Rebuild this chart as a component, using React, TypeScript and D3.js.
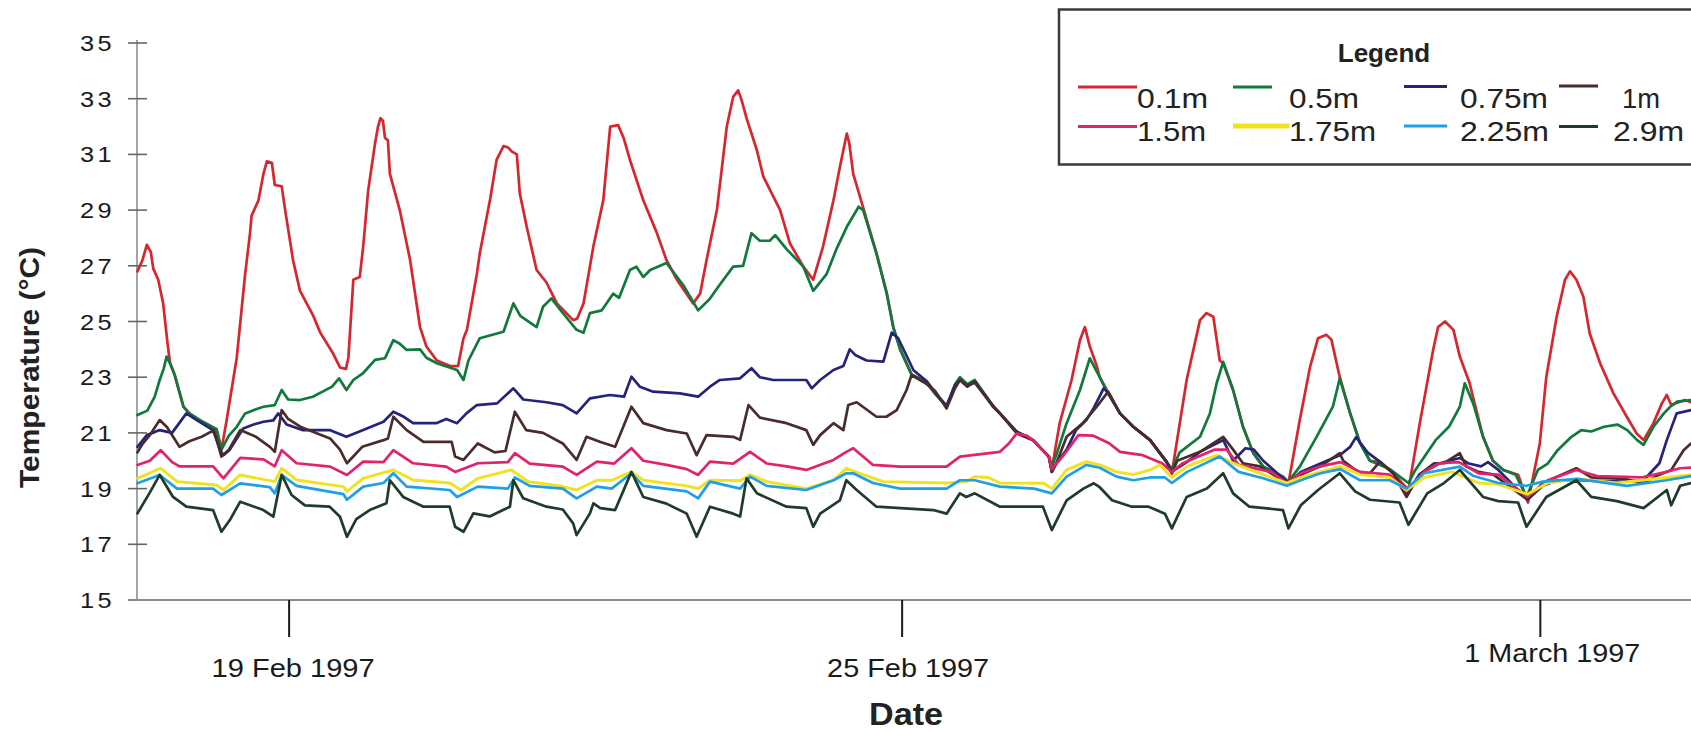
import React from "react";
import * as d3 from "d3";

type P = [number, number];

// x = hours from start of record, y = temperature (°C)
const s01: P[] = [[0.5,26.8],[1.5,27.2],[2.4,27.75],[3.2,27.5],[3.7,26.9],[4.7,26.5],[5.7,25.65],[6.6,24.2],[7.1,23.5],[8,23.1],[9.8,21.94],[11,21.7],[13.2,21.45],[16.5,21.13],[17.5,20.4],[18.5,21.4],[20.6,23.7],[22.3,26.7],[23.3,28.2],[23.6,28.8],[25,29.35],[26,30.3],[26.7,30.75],[27.7,30.7],[28.3,29.9],[29.7,29.85],[30.4,29.0],[32,27.2],[33.4,26.1],[36.1,25.2],[37.5,24.6],[40.1,23.85],[41.5,23.35],[42.7,23.3],[43.2,23.7],[44.2,26.5],[45.5,26.6],[46.2,27.7],[47.2,29.7],[48.6,31.4],[49.2,32.0],[49.7,32.3],[50.2,32.2],[50.6,31.6],[51.2,31.5],[51.6,30.3],[53.6,29.0],[55.7,27.2],[57.7,24.8],[59,24.1],[61.1,23.6],[63.8,23.4],[65.4,23.4],[66.5,24.4],[67.2,24.7],[69.2,26.7],[69.8,27.45],[71.9,29.4],[73.2,30.8],[74.6,31.3],[75.5,31.25],[76.3,31.1],[77.3,31.0],[77.9,29.6],[79.3,28.4],[81.3,26.85],[83.3,26.4],[85.4,25.65],[88.7,25.05],[89.5,25.1],[90.8,25.65],[92.8,27.7],[94.8,29.35],[96.2,32.0],[97.8,32.05],[98.9,31.6],[100.2,30.8],[102.9,29.35],[105.6,28.2],[107.6,27.2],[109.7,26.5],[113,25.65],[114.4,26.0],[115.7,27.2],[117.8,29.0],[119.8,32.0],[121.1,33.07],[122.1,33.3],[122.8,32.95],[123.8,32.3],[125.9,31.15],[127.2,30.2],[130.6,29.0],[132.6,27.8],[135.3,26.97],[137.3,26.5],[139.3,27.7],[141.4,29.35],[142.7,30.55],[144.1,31.75],[144.6,31.4],[145.4,30.3],[147.4,29.1],[150.1,27.45],[152.2,26.0],[153.5,24.8],[154.9,24.0],[157.2,23.1],[160.3,22.8],[162,22.4],[164.3,21.95],[166,22.7],[167,22.95],[168.5,22.7],[170,22.85],[173.7,21.97],[175.1,21.7],[178.5,21.04],[181.8,20.74],[185,20.15],[185.6,19.7],[187.2,21.35],[189.6,22.9],[191.3,24.33],[192.3,24.8],[193.3,24.1],[194.7,23.4],[195.3,23.0],[197,22.45],[199.4,21.7],[202.1,21.22],[205.5,20.74],[208.8,19.97],[209.9,19.55],[212.9,22.9],[215.6,25.05],[216.9,25.3],[218.3,25.17],[219.6,23.6],[220.3,23.5],[222.3,22.54],[224.3,21.22],[226.4,20.27],[228.4,19.79],[232.4,19.43],[233.5,19.19],[235.8,21.46],[237.9,23.38],[239.5,24.4],[241.2,24.52],[242.2,24.35],[243.9,23.0],[246,21.7],[248,20.63],[250,20.0],[252,19.95],[254.7,19.55],[257.8,18.95],[260.1,21.35],[262.8,23.98],[263.8,24.8],[265.2,25.0],[266.9,24.7],[268.2,23.74],[270.2,22.78],[271,22.2],[272.9,20.86],[274.9,20.0],[277,19.67],[280,19.5],[282,18.5],[284.4,20.63],[285.7,23.0],[287.8,25.17],[289.5,26.5],[290.5,26.8],[291.8,26.5],[293.2,25.9],[294.5,24.57],[296.6,23.5],[299.3,22.42],[302,21.58],[304,20.98],[305.4,20.74],[307.4,21.35],[309.1,22.06],[310.1,22.36],[311,22.0],[312.5,22.1],[313.8,22.18],[315,22.1]];

const s05: P[] = [[0.5,21.64],[2.5,21.8],[4,22.3],[5,22.9],[5.8,23.3],[6.4,23.74],[7.1,23.5],[8,23.1],[9.8,21.94],[11,21.7],[13.2,21.45],[16.5,21.13],[17.5,20.4],[19,20.9],[20.6,21.22],[22.3,21.7],[24.5,21.85],[26,21.94],[28.3,22.0],[29.7,22.54],[31,22.2],[33.4,22.18],[36,22.3],[39.9,22.66],[41.3,22.96],[42.8,22.54],[44.2,22.9],[46.2,23.15],[48.6,23.62],[50.6,23.68],[52.3,24.33],[53.6,24.2],[55,23.98],[57.7,24.0],[59,23.7],[61.1,23.5],[65.2,23.26],[66.5,22.9],[67.5,23.6],[69.8,24.4],[71.8,24.5],[74.6,24.63],[76.6,25.65],[78,25.2],[81.3,24.8],[82.6,25.53],[84.3,25.83],[86.4,25.35],[89.4,24.7],[90.8,24.6],[92.1,25.3],[94.5,25.4],[96.8,26.0],[98,25.85],[100.2,26.85],[101.5,26.97],[102.9,26.6],[104.3,26.85],[107.6,27.1],[111,26.3],[114,25.4],[116.3,25.8],[118.3,26.3],[121.1,26.97],[123.1,27.0],[124.8,28.17],[126.5,27.9],[128.5,27.9],[129.6,28.1],[131.9,27.6],[135.3,26.97],[137.3,26.1],[140,26.7],[142,27.6],[144.1,28.4],[146.5,29.12],[147.4,29.0],[150.1,27.45],[152.2,26.0],[153.5,24.8],[154.9,24.0],[157.2,23.1],[160.3,22.8],[162,22.4],[164.3,21.95],[166,22.75],[167,23.0],[168.5,22.75],[170,22.9],[173.7,21.97],[175.1,21.7],[178.5,21.04],[181.8,20.74],[185,20.15],[185.6,19.8],[186.5,20.2],[188.6,21.35],[191.3,22.54],[193.3,23.68],[195.3,23.0],[197,22.4],[199.4,21.7],[202.1,21.22],[205.5,20.74],[208.8,19.97],[209.9,19.7],[211.5,20.3],[215.6,20.86],[217.6,21.7],[219,22.8],[220.3,23.55],[222.3,22.54],[224.3,21.22],[226.4,20.27],[228.4,19.79],[232.4,19.43],[233.5,19.25],[235.8,19.79],[239.2,20.86],[242.5,21.94],[243.9,22.96],[246,21.7],[248,20.63],[250,20.0],[254,19.7],[257.8,19.2],[259.2,19.67],[263.3,20.74],[266,21.22],[268.2,21.94],[269.2,22.78],[270.9,22.06],[272.9,20.86],[274.9,20.0],[277,19.67],[279.5,19.5],[281.7,18.7],[284,19.67],[286,19.9],[288,20.38],[290.8,20.86],[292.8,21.1],[294.8,21.05],[297.4,21.22],[300.1,21.3],[302.1,21.1],[304.1,20.74],[305.4,20.57],[307.4,21.22],[309.5,21.7],[310.8,21.94],[312.2,22.12],[315,22.18]];

const s075: P[] = [[0.5,20.5],[2.4,20.92],[5,21.1],[7.5,21.0],[10.4,21.7],[12.5,21.46],[15.8,21.1],[17.2,20.4],[17.9,20.2],[19.2,20.4],[21.9,21.16],[24,21.3],[26,21.4],[28,21.45],[29,21.7],[30.7,21.3],[34,21.1],[39.4,21.1],[42.8,20.86],[46.2,21.1],[50.3,21.4],[52.3,21.76],[54.2,21.6],[56.3,21.35],[61,21.35],[63,21.5],[65.2,21.35],[67.1,21.7],[69.2,22.0],[73.3,22.06],[76.6,22.6],[78.6,22.2],[83.3,22.1],[86.6,22.0],[89.4,21.7],[92.1,22.24],[96.1,22.36],[99,22.3],[100.5,23.02],[102.2,22.66],[104.9,22.48],[110.3,22.42],[114,22.3],[116.4,22.66],[118.4,22.9],[122.5,22.96],[124.8,23.32],[126.5,23.0],[129.2,22.9],[135.9,22.9],[137,22.6],[138.7,22.9],[141.4,23.26],[143.4,23.4],[144.7,24.0],[145.8,23.8],[148.1,23.6],[151.5,23.56],[153.2,24.6],[154.5,24.4],[157.6,23.25],[160.3,22.85],[162,22.45],[164.3,21.97],[166,22.7],[167,22.9],[168.5,22.66],[170,22.84],[173.7,21.94],[175.1,21.7],[178.5,21.04],[181.8,20.74],[185,20.15],[185.6,19.6],[186.5,19.9],[188.6,20.4],[190.5,21.1],[192.6,21.46],[194.1,21.9],[196.1,22.6],[197.2,22.4],[199.4,21.7],[202.1,21.22],[205.5,20.74],[208.8,19.97],[209.9,19.6],[212.9,19.95],[215.6,20.32],[220.3,20.74],[222.3,20.0],[224.8,20.45],[226.5,20.4],[228.4,20.0],[233.5,19.2],[236,19.6],[240,19.9],[243.9,20.2],[246,20.5],[247.2,20.85],[249.5,20.3],[252,19.97],[254.7,19.55],[257.4,18.8],[260,19.5],[264,19.9],[268.2,20.1],[270,19.9],[272.5,19.8],[273.9,19.95],[276,19.67],[281.9,18.6],[285,19.1],[288,19.3],[292.4,19.3],[301,19.25],[305.4,19.3],[308.6,19.91],[310.1,20.74],[312.1,21.7],[315,21.82]];

const s1: P[] = [[0.5,20.3],[1.5,20.6],[3,20.92],[5,21.46],[6.5,21.2],[9,20.5],[11,20.7],[13.5,20.86],[16,21.1],[17.5,20.15],[19,20.4],[21.3,21.1],[24.5,20.86],[27.3,20.5],[28.3,20.32],[29.7,21.82],[31,21.5],[33.7,21.2],[39.5,20.8],[41.5,20.4],[42.9,19.91],[46,20.5],[50.3,20.74],[51.2,20.8],[52.3,21.58],[55,21.1],[58.4,20.68],[64.1,20.68],[64.8,20.15],[66.5,20.03],[69.4,20.62],[72.8,20.3],[75,20.35],[76.9,21.76],[79.2,21.1],[82.6,21.0],[86.6,20.62],[89.4,20.03],[91.4,20.86],[94.1,20.68],[97.2,20.5],[100.5,21.94],[102.9,21.35],[107.6,21.1],[111.7,20.98],[113.7,20.2],[115.7,20.92],[121.1,20.86],[122.5,20.75],[124.2,22.0],[126.5,21.55],[131.9,21.35],[135.9,21.1],[137.3,20.57],[138.7,20.92],[141.4,21.35],[143.4,21.1],[144.4,22.0],[146.1,22.1],[150.1,21.58],[152.1,21.58],[154.2,21.82],[156.2,22.54],[157.2,23.08],[160.3,22.75],[162,22.5],[164.3,21.88],[166,22.6],[167,22.9],[168.5,22.7],[170,22.8],[173.7,21.97],[175.1,21.7],[178.5,20.98],[181.8,20.74],[185,20.15],[185.6,19.6],[186.5,19.9],[188.6,20.86],[191.9,21.35],[194.7,21.94],[197,22.48],[199.4,21.7],[202.1,21.22],[205.5,20.74],[208.8,19.97],[209.9,19.55],[211,20.0],[215.6,20.32],[220.3,20.86],[222.3,20.4],[224.3,19.91],[227.7,19.8],[233.2,19.2],[236,19.5],[240,19.8],[243.9,20.27],[244.6,20.0],[248,19.55],[250,19.55],[252,19.97],[254.7,19.55],[257.4,18.7],[260,19.5],[263,19.91],[265,19.91],[268.2,20.27],[269.5,19.8],[272,19.6],[275,19.5],[281.9,18.6],[285,19.2],[291.8,19.73],[294.8,19.4],[301.5,19.35],[305.4,19.2],[308.6,19.5],[311,19.67],[313.5,20.38],[315,20.62]];

const s15: P[] = [[0.5,19.85],[3,20.0],[5.2,20.38],[7.5,19.95],[9,19.8],[15.8,19.8],[17.9,19.37],[21.3,20.1],[26,20.05],[28.3,19.8],[29.7,20.38],[32.7,19.91],[39.5,19.79],[42.9,19.49],[46.2,19.97],[50.3,19.95],[52.3,20.38],[56.3,19.91],[63,19.79],[64.8,19.6],[69.4,19.91],[75.5,19.95],[76.9,20.27],[79.9,19.9],[86.6,19.79],[89.4,19.49],[93.5,19.97],[97,19.9],[100.5,20.45],[102.9,20.0],[107.6,19.85],[111.7,19.7],[114,19.49],[116.4,19.97],[121.1,19.9],[124.5,20.32],[127.9,19.9],[131.9,19.8],[135.9,19.67],[141.4,20.03],[144,20.32],[145.4,20.45],[149.4,19.85],[154.9,19.79],[164.3,19.79],[167,20.15],[175.1,20.32],[176.8,20.6],[178.5,20.98],[180.5,20.9],[181.8,20.74],[185,20.15],[185.6,19.7],[188,20.2],[191,20.92],[194,20.9],[197.2,20.63],[199.4,20.32],[204,20.2],[208,19.9],[209.9,19.6],[212,19.9],[218.6,20.4],[221,20.4],[223.4,19.85],[230,19.6],[233.2,19.2],[236,19.55],[240,19.8],[244,19.95],[248,19.6],[254,19.5],[257.4,18.9],[261,19.6],[264,19.91],[268,19.95],[272,19.55],[276,19.5],[281.9,18.7],[286,19.3],[291.8,19.67],[296,19.45],[305,19.4],[310,19.6],[312.8,19.73],[315,19.75]];

const s175: P[] = [[0.5,19.37],[5.2,19.73],[8.5,19.25],[16.5,19.13],[17.9,18.95],[21.3,19.49],[28.3,19.25],[29.7,19.73],[32.7,19.31],[42.2,19.07],[42.9,18.9],[46.2,19.37],[52.3,19.67],[56.3,19.31],[63.7,19.2],[66,18.95],[69.4,19.37],[76.2,19.67],[79.6,19.25],[86,19.1],[89.4,18.95],[93.5,19.3],[96.5,19.3],[100.5,19.6],[102.9,19.3],[111.7,19.1],[114,19.0],[116.4,19.3],[122.5,19.28],[124.5,19.5],[127.9,19.25],[135.9,19.0],[141.4,19.3],[144,19.73],[146.7,19.55],[151.5,19.25],[164.3,19.2],[168.3,19.25],[170,19.43],[172.7,19.4],[175.1,19.2],[184,19.19],[185.6,19.0],[188.6,19.67],[192.6,19.97],[195.3,19.85],[198.7,19.6],[202.1,19.5],[205.5,19.67],[207.5,19.85],[209.9,19.4],[213,19.8],[219,20.2],[222.5,19.9],[228.4,19.5],[233.2,19.2],[236,19.4],[240,19.6],[244,19.8],[248,19.5],[254,19.4],[257.4,18.95],[261,19.4],[266.5,19.6],[268,19.5],[272,19.2],[276,19.15],[281.9,18.8],[286,19.2],[292,19.35],[300,19.2],[310,19.4],[315,19.5]];

const s225: P[] = [[0.5,19.19],[5,19.49],[8.5,19.0],[15.8,19.0],[17.5,18.77],[21.3,19.19],[27.3,19.05],[28.3,18.83],[29.7,19.49],[32.7,19.1],[42.2,18.8],[42.9,18.6],[46.2,19.07],[50.3,19.2],[52.3,19.55],[55,19.07],[63.7,18.95],[65.2,18.7],[69.4,19.07],[75.5,19.0],[76.9,19.4],[79.9,19.1],[86.6,19.0],[89.4,18.65],[93.5,19.07],[96.5,19.0],[100.5,19.55],[102.9,19.1],[111.7,18.9],[114,18.65],[116.4,19.25],[122.5,19.0],[124.5,19.43],[127.9,19.1],[135.9,18.95],[141.4,19.3],[144,19.55],[145.4,19.55],[149.4,19.2],[154.9,19.0],[164.3,19.0],[167,19.3],[170,19.3],[175.1,19.07],[182,19.0],[185.6,18.83],[188.6,19.43],[192.6,19.85],[195.3,19.75],[198.7,19.43],[202.1,19.3],[205.5,19.4],[208.5,19.4],[209.9,19.2],[213,19.6],[219.6,20.15],[223.4,19.6],[228.4,19.37],[233.2,19.1],[236,19.3],[240,19.55],[244,19.7],[248,19.3],[254,19.3],[257.4,19.0],[261,19.55],[268.2,19.79],[271,19.45],[276,19.2],[281.7,19.1],[285,19.25],[292,19.35],[302,19.1],[310,19.3],[315,19.45]];

const s29: P[] = [[0.5,18.11],[2.9,18.83],[5,19.49],[7.7,18.7],[10.4,18.35],[15.8,18.23],[17.5,17.45],[19.2,17.87],[21.3,18.53],[26,18.23],[28,17.99],[29.7,19.49],[31.7,18.77],[34.4,18.4],[39.4,18.35],[41.5,17.99],[42.9,17.27],[44.8,17.9],[47.5,18.23],[50.9,18.47],[51.6,19.3],[54.3,18.7],[58.4,18.35],[63.7,18.35],[64.8,17.63],[66.5,17.45],[68.5,18.11],[71.8,18.0],[74.5,18.23],[75.9,18.35],[76.6,19.3],[78.6,18.65],[83.3,18.35],[86.6,18.25],[88.7,17.75],[89.4,17.33],[92.1,18.11],[92.8,18.47],[94.2,18.3],[97.2,18.23],[100.5,19.6],[102.9,18.7],[107.6,18.46],[111.7,18.1],[113.7,17.27],[116.4,18.35],[121.1,18.1],[122.5,18.0],[123.8,19.37],[125.9,18.83],[131.9,18.35],[135.9,18.3],[137.3,17.63],[138.7,18.1],[142.7,18.58],[144,19.3],[146.1,18.95],[150.1,18.35],[155,18.3],[161.6,18.23],[164.3,18.1],[167,18.83],[168.3,18.7],[170,18.83],[175.1,18.35],[183.8,18.35],[185.6,17.51],[188.6,18.58],[192,19.0],[194.1,19.19],[195.3,19.05],[197.8,18.58],[201.8,18.35],[205.2,18.35],[208.5,18.1],[209.9,17.57],[212.9,18.7],[217,19.0],[220.3,19.55],[222.3,18.83],[225.6,18.35],[232.4,18.23],[233.5,17.57],[236,18.4],[239.5,18.95],[243.9,19.55],[247,18.9],[250,18.6],[256,18.5],[257.8,17.7],[261.6,18.83],[265,19.2],[268.2,19.67],[269,19.5],[272.9,18.7],[276,18.55],[280,18.5],[281.7,17.63],[285.7,18.7],[291.8,19.3],[294.8,18.7],[300,18.55],[305.4,18.3],[310.1,18.95],[311,18.4],[312.8,19.1],[315,19.2]];

const seriesLabels = ["0.1m", "0.5m", "0.75m", "1m", "1.5m", "1.75m", "2.25m", "2.9m"];
const seriesData: P[][] = [s01, s05, s075, s1, s15, s175, s225, s29];
const yTickValues = [15, 17, 19, 21, 23, 25, 27, 29, 31, 33, 35];
const dateTickHours = [31.2, 155.3, 284.5];
const dateTickLabels = ["19 Feb 1997", "25 Feb 1997", "1 March 1997"];

const COLORS = ["#d8262e", "#0f7a3c", "#25247a", "#4a2c2c", "#e2226c", "#f0e21c", "#1e9fe6", "#1f3b2a"];
const FONT = "'Liberation Sans', Arial, Helvetica, sans-serif";

export default function App() {
  const W = 1691, H = 731;
  const x = d3.scaleLinear().domain([0, 315]).range([135, 1691]);
  const y = d3.scaleLinear().domain([15, 35]).range([600, 43]);
  const line = d3.line<P>().x(d => x(d[0])).y(d => y(d[1]));

  // legend layout: [lineX0, lineX1, lineY, textX, textW, baseline]
  const legendLayout: [number, number, number, number, number, number][] = [
    [1078, 1137, 87, 1137, 71, 108],
    [1233, 1272, 87, 1289, 70, 108],
    [1404, 1447, 86.5, 1460, 88, 108],
    [1559, 1598, 86, 1622, 38, 108],
    [1078, 1137, 126.5, 1137, 69, 141],
    [1233, 1289, 126, 1289, 87, 141],
    [1404, 1447, 126, 1460, 89, 141],
    [1559, 1598, 126.5, 1613, 71, 141],
  ];
  const dateLabelW = [163, 162, 176];
  const dateLabelBase = [677, 677, 662];
  const dateLabelShift = [4, 6, 12];

  return (
    <svg width={W} height={H} viewBox={`0 0 ${W} ${H}`}
      style={{ position: "absolute", left: 0, top: 0, background: "#fff" }}
      fontFamily={FONT}>
      <rect x={0} y={0} width={W} height={H} fill="#fff" />

      {/* y axis */}
      <line x1={137} x2={137} y1={y(35) - 3} y2={y(15)} stroke="#8e8e8e" strokeWidth={1.6} />
      {yTickValues.map(v => (
        <g key={v}>
          <line x1={128} x2={147} y1={y(v)} y2={y(v)} stroke="#666" strokeWidth={1.6} />
          <text x={80} y={y(v) + 8} fontSize={22.5} fill="#1a1a1a"
            textLength={35} lengthAdjust="spacingAndGlyphs" letterSpacing={3}>{v}</text>
        </g>
      ))}

      {/* x axis */}
      <line x1={135} x2={W} y1={y(15)} y2={y(15)} stroke="#8c8c8c" strokeWidth={2.2} />
      {dateTickHours.map((h, i) => (
        <g key={h}>
          <line x1={x(h)} x2={x(h)} y1={y(15)} y2={637} stroke="#1a1a1a" strokeWidth={2} />
          <text x={x(h) + dateLabelShift[i]} y={dateLabelBase[i]} fontSize={25} textAnchor="middle" fill="#1a1a1a"
            textLength={dateLabelW[i]} lengthAdjust="spacingAndGlyphs">{dateTickLabels[i]}</text>
        </g>
      ))}

      {/* series */}
      {seriesData.map((d, i) => (
        <path key={seriesLabels[i]} d={line(d) || ""} fill="none" stroke={COLORS[i]}
          strokeWidth={i === 5 ? 2.9 : 2.7} strokeLinejoin="round" strokeLinecap="round" />
      ))}

      {/* axis titles */}
      <text x={906} y={725} fontSize={32} fontWeight="bold" textAnchor="middle" fill="#222"
        textLength={74} lengthAdjust="spacingAndGlyphs">Date</text>
      <text transform={`translate(38.5, 367.5) rotate(-90)`} fontSize={28} fontWeight="bold"
        textAnchor="middle" fill="#222" textLength={241} lengthAdjust="spacingAndGlyphs">Temperature (°C)</text>

      {/* legend */}
      <rect x={1059} y={9.5} width={700} height={155} fill="#fff" stroke="#3a3a3a" strokeWidth={2.5} />
      <text x={1384} y={61.5} fontSize={26} fontWeight="bold" textAnchor="middle" fill="#222">Legend</text>
      {seriesLabels.map((lab, i) => {
        const [lx0, lx1, ly, tx, tw, tb] = legendLayout[i];
        return (
          <g key={lab}>
            <line x1={lx0} x2={lx1} y1={ly} y2={ly} stroke={COLORS[i]} strokeWidth={i === 5 ? 5 : 3} />
            <text x={tx} y={tb} fontSize={28} fill="#222" textLength={tw} lengthAdjust="spacingAndGlyphs">{lab}</text>
          </g>
        );
      })}
    </svg>
  );
}
